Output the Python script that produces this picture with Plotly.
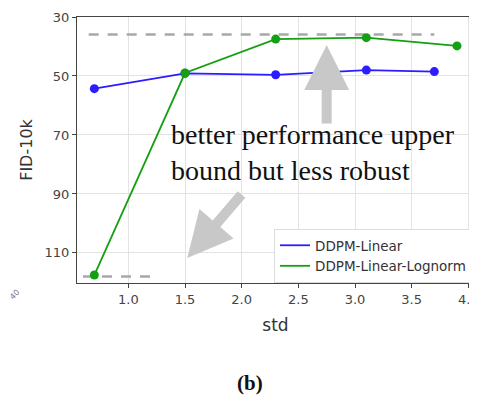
import plotly.graph_objects as go

# data
std_linear = [0.7, 1.5, 2.3, 3.1, 3.7]
fid_linear = [54.3, 49.1, 49.6, 48.0, 48.5]
std_lognorm = [0.7, 1.5, 2.3, 3.1, 3.9]
fid_lognorm = [117.5, 49.0, 37.5, 37.0, 39.8]
upper_ref_x = [0.65, 3.7]
upper_ref_y = [35.9, 35.9]
lower_ref_x = [0.6, 1.22]
lower_ref_y = [118.0, 118.0]
x_ticks = [1.0, 1.5, 2.0, 2.5, 3.0, 3.5, 4.0]
y_ticks = [30, 50, 70, 90, 110]

BLUE = "#2b1dff"
GREEN = "#13a013"
GRAY = "#a8a8a8"

# page body has an 8px margin, so the figure is offset by 8px
OFF = 8
W, H = 477 - OFF, 398 - OFF
L, T = 77 - OFF, 17 - OFF
R, B = 3, 398 - 283
PW, PH = W - L - R, H - T - B
PLOT_BOTTOM = 283  # in screenshot pixels

fig = go.Figure()
for xs, ys in [(upper_ref_x, upper_ref_y), (lower_ref_x, lower_ref_y)]:
    fig.add_trace(go.Scatter(x=xs, y=ys, mode="lines", showlegend=False,
                             line=dict(color=GRAY, width=2.5, dash="10px,9px"),
                             hoverinfo="skip"))

for name, xs, ys, c in [("DDPM-Linear", std_linear, fid_linear, BLUE),
                        ("DDPM-Linear-Lognorm", std_lognorm, fid_lognorm, GREEN)]:
    fig.add_trace(go.Scatter(x=xs, y=ys, mode="lines", name=name,
                             line=dict(color=c, width=1.8)))
    fig.add_trace(go.Scatter(x=xs, y=ys, mode="markers", showlegend=False,
                             marker=dict(color=c, size=9)))

# arrows
fig.add_annotation(x=2.75, y=39.5, ax=2.75, ay=66.6, xref="x", yref="y",
                   axref="x", ayref="y", showarrow=True, text="",
                   arrowhead=2, arrowsize=0.9, arrowwidth=10, arrowcolor="#c8c8c8")
fig.add_annotation(x=1.52, y=111.7, ax=2.01, ay=89.7, xref="x", yref="y",
                   axref="x", ayref="y", showarrow=True, text="",
                   arrowhead=2, arrowsize=0.9, arrowwidth=10, arrowcolor="#c8c8c8")

fig.add_annotation(x=1.355, y=76.0, xref="x", yref="y", showarrow=False,
                   xanchor="left", yanchor="middle", align="left",
                   text="better performance upper<br>bound but less robust",
                   font=dict(family="Liberation Serif", size=28, color="#111"))

fig.add_annotation(x=(250 - 77) / PW, xref="paper", y=-(383 - PLOT_BOTTOM) / PH, yref="paper",
                   xanchor="center", yanchor="middle", showarrow=False,
                   text="<b>(b)</b>",
                   font=dict(family="Liberation Serif", size=21, color="#111"))
fig.add_annotation(x=-(77 - 15) / PW, xref="paper", y=-(295 - PLOT_BOTTOM) / PH, yref="paper",
                   xanchor="center", yanchor="middle", showarrow=False, textangle=-45,
                   text="40", font=dict(family="DejaVu Sans", size=8, color="#777"))

axis_common = dict(showline=True, linecolor="#444", linewidth=1.3, mirror=True,
                   showgrid=True, gridcolor="#e3e3e3", gridwidth=1, automargin=False,
                   ticks="outside", ticklen=4, tickcolor="#444", zeroline=False,
                   ticklabeloverflow="allow",
                   tickfont=dict(family="DejaVu Sans", size=13, color="#444"))

fig.update_xaxes(range=[0.547, 4.05], tickvals=x_ticks,
                 ticktext=[f"{v:.1f}" for v in x_ticks],
                 title=dict(text="std", standoff=13,
                            font=dict(family="DejaVu Sans", size=17, color="#333")),
                 **axis_common)
fig.update_yaxes(range=[120.2, 30], tickvals=y_ticks,
                 title=dict(text="FID-10k", standoff=7,
                            font=dict(family="DejaVu Sans", size=16, color="#333")),
                 **axis_common)

fig.update_layout(
    width=W, height=H,
    margin=dict(l=L, r=R, t=T, b=B, autoexpand=False),
    paper_bgcolor="white", plot_bgcolor="white",
    showlegend=True,
    legend=dict(x=0.995, y=0.0, xanchor="right", yanchor="bottom",
                bgcolor="white", bordercolor="#dddddd", borderwidth=1,
                font=dict(family="DejaVu Sans", size=13.5, color="#333"),
                tracegroupgap=0, itemwidth=30),
)

fig.write_html("out.html")
